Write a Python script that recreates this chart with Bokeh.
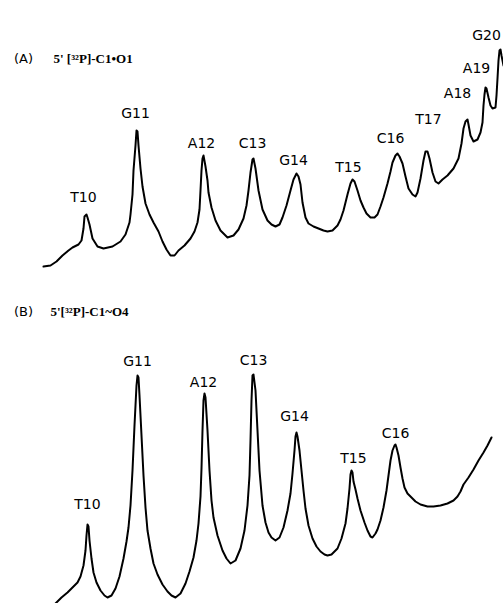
from bokeh.plotting import figure
from bokeh.models import Range1d
from bokeh.core.properties import value
from bokeh.embed import file_html
from bokeh.resources import INLINE

# Densitometry trace (A): migration position vs. band signal (screen-like units, y grows downward)
trace_a_x = [43, 50, 56, 62, 68, 72, 78, 81, 83, 84, 86, 87, 89, 92, 97, 103, 112, 120, 125, 127, 129, 130,
             132, 133, 135, 136, 137, 138, 140, 142, 145, 149, 153, 158, 162, 166, 170, 174, 178, 184, 190,
             194, 197, 199, 200, 201, 202, 203, 205, 207, 208, 211, 215, 220, 227, 233, 238, 243, 246, 248,
             250, 252, 253, 255, 258, 262, 267, 271, 275, 279, 282, 286, 290, 293, 296, 298, 300, 302, 305,
             308, 313, 318, 323, 327, 332, 337, 340, 343, 347, 350, 352, 354, 357, 360, 363, 366, 370, 374,
             377, 380, 383, 387, 390, 392, 395, 397, 399, 402, 405, 408, 412, 415, 417, 420, 423, 425, 427,
             429, 432, 435, 438, 442, 447, 453, 458, 461, 463, 465, 467, 468, 470, 473, 477, 480, 482, 483,
             484, 485, 486, 488, 490, 492, 495, 496, 497, 498, 499, 500, 501, 503]
trace_a_y = [266, 265, 261, 255, 250, 247, 244, 240, 228, 216, 214, 217, 224, 238, 246, 248, 246, 241, 234, 228,
             222, 214, 194, 170, 145, 130, 131, 145, 168, 186, 203, 214, 222, 231, 241, 249, 255, 255, 250, 245,
             238, 231, 222, 209, 190, 170, 158, 155, 166, 180, 192, 207, 220, 230, 237, 235, 229, 218, 205, 190,
             172, 159, 158, 168, 190, 209, 220, 224, 226, 224, 217, 205, 190, 179, 173, 176, 184, 202, 217,
             223, 226, 228, 230, 231, 230, 225, 219, 210, 194, 183, 179, 181, 190, 200, 207, 213, 217, 217,
             214, 206, 197, 183, 171, 162, 155, 153, 156, 163, 176, 188, 194, 196, 192, 178, 160, 151, 151,
             158, 172, 181, 183, 179, 175, 168, 158, 143, 128, 121, 119, 124, 135, 141, 139, 132, 122, 105,
             94, 87, 88, 97, 105, 108, 107, 95, 78, 60, 50, 49, 55, 65, 80]

# Densitometry trace (B)
trace_b_x = [55, 61, 67, 72, 77, 80, 83, 85, 86, 87, 88, 89, 91, 93, 96, 100, 104, 107, 111, 115, 119, 123,
             126, 128, 130, 132, 134, 136, 137, 138, 139, 141, 143, 145, 147, 150, 153, 157, 162, 167, 171,
             175, 180, 185, 189, 193, 196, 198, 200, 201, 202, 203, 204, 205, 207, 209, 211, 213, 217, 222,
             226, 230, 235, 240, 244, 247, 249, 250, 251, 252, 253, 255, 257, 259, 262, 265, 268, 271, 275,
             279, 283, 287, 290, 292, 294, 295, 296, 297, 299, 301, 303, 305, 308, 312, 316, 320, 324, 327,
             331, 337, 341, 345, 347, 349, 350, 351, 352, 353, 355, 357, 360, 364, 367, 370, 372, 375, 377,
             380, 383, 386, 388, 390, 392, 394, 395, 396, 398, 400, 402, 404, 407, 411, 415, 420, 427, 433,
             440, 447, 453, 457, 460, 463, 468, 473, 478, 483, 487, 491, 495]
trace_b_y = [603, 597, 592, 587, 582, 576, 565, 550, 535, 524, 526, 540, 558, 572, 582, 590, 595, 597, 595, 588,
             576, 558, 541, 527, 505, 470, 425, 385, 375, 377, 395, 435, 475, 507, 530, 548, 563, 574, 584, 591,
             595, 597, 593, 583, 571, 557, 540, 523, 496, 468, 430, 400, 393, 397, 430, 470, 500, 517, 535, 550,
             558, 563, 560, 548, 530, 505, 475, 440, 400, 375, 374, 390, 430, 470, 505, 522, 532, 537, 540, 537,
             527, 510, 493, 473, 450, 436, 432, 436, 450, 470, 490, 508, 525, 538, 546, 551, 554, 555, 554, 548,
             538, 523, 508, 488, 474, 470, 472, 481, 489, 498, 510, 522, 530, 536, 537, 533, 529, 520, 507, 490,
             475, 460, 450, 445, 444, 447, 455, 467, 478, 487, 493, 497, 501, 504, 506, 506, 505, 503, 500, 496,
             491, 484, 477, 469, 460, 452, 445, 437]

# Peak labels (band names) and their label anchor points
labels_a = ["T10", "G11", "A12", "C13", "G14", "T15", "C16", "T17", "A18", "A19", "G20"]
labels_a_x = [83, 135, 201, 252, 293, 348, 390, 428, 457, 476, 486]
labels_a_y = [196, 112, 142, 142, 159, 166, 137, 118, 92, 67, 34]

labels_b = ["T10", "G11", "A12", "C13", "G14", "T15", "C16"]
labels_b_x = [87, 137, 203, 253, 294, 353, 395]
labels_b_y = [503, 360, 381, 359, 415, 457, 432]

panel_tags = ["(A)", "(B)"]
panel_titles = ["5' [³²P]-C1•O1", "5'[³²P]-C1~O4"]
panel_tag_x = [23, 23]
panel_tag_y = [58, 311]
panel_title_x = [53, 50]

p = figure(width=503, height=603, output_backend="svg", toolbar_location=None,
           x_range=Range1d(0, 503), y_range=Range1d(603, 0),
           min_border=0, min_border_left=0, min_border_right=0,
           min_border_top=0, min_border_bottom=0)
p.axis.visible = False
p.grid.visible = False
p.outline_line_color = None
p.background_fill_color = "white"
p.border_fill_color = "white"

p.line(trace_a_x, trace_a_y, line_color="black", line_width=2, line_join="round", line_cap="round")
p.line(trace_b_x, trace_b_y, line_color="black", line_width=2, line_join="round", line_cap="round")

lab_font = value("DejaVu Sans")
p.text(labels_a_x, labels_a_y, text=labels_a, text_font=lab_font, text_font_size="14px",
       text_align="center", text_baseline="middle", text_color="black")
p.text(labels_b_x, labels_b_y, text=labels_b, text_font=lab_font, text_font_size="14px",
       text_align="center", text_baseline="middle", text_color="black")

p.text(panel_tag_x, panel_tag_y, text=panel_tags, text_font=value("DejaVu Sans"), text_font_size="13px",
       text_align="center", text_baseline="middle", text_color="black")
p.text(panel_title_x, panel_tag_y, text=panel_titles, text_font=value("Liberation Serif"),
       text_font_size="13px", text_font_style="bold",
       text_align="left", text_baseline="middle", text_color="black")

open("out.html", "w").write(file_html(p, INLINE))
